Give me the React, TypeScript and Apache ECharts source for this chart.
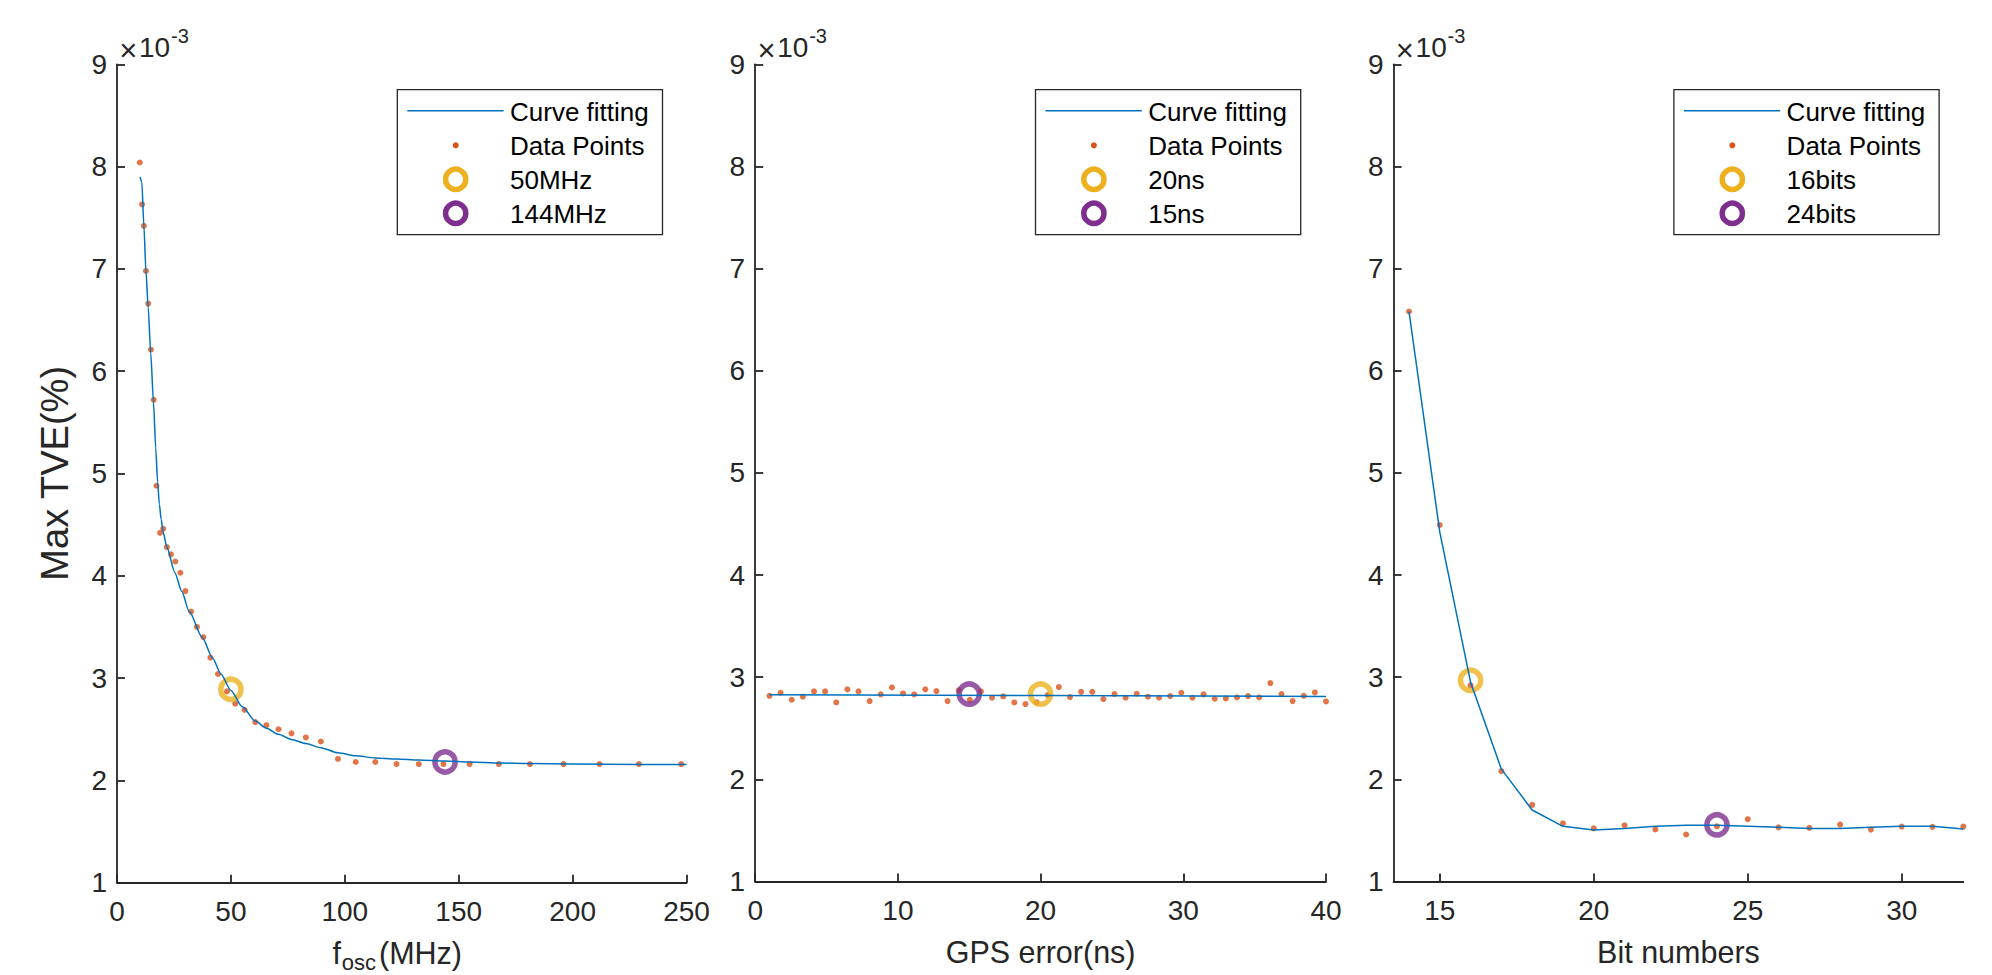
import React, { useEffect, useRef } from "react";
import * as echarts from "echarts";

const FONT = "'Liberation Sans', Arial, Helvetica, sans-serif";
const AX = "#262626";
const C_BLUE = "#0072BD";
const C_ORANGE = "#D95319";
const C_YELLOW = "#EDB120";
const C_PURPLE = "#7E2F8E";

// ---------- Panel 1 : oscillator frequency ----------
const foscX = [10.0, 11.0, 11.8, 12.7, 13.7, 14.9, 16.1, 17.3, 18.9, 20.3, 21.9, 23.7, 25.6, 27.8, 30.0, 32.5, 35.1, 37.9, 41.0, 44.3, 48.3, 51.9, 56.0, 60.7, 65.6, 70.9, 76.6, 82.9, 89.5, 97.0, 104.8, 113.4, 122.7, 132.5, 143.3, 154.8, 167.6, 181.3, 196.0, 211.8, 229.1, 247.7];
const foscY = [8.04, 7.63, 7.42, 6.98, 6.66, 6.21, 5.72, 4.88, 4.42, 4.46, 4.28, 4.21, 4.14, 4.03, 3.85, 3.65, 3.50, 3.40, 3.20, 3.04, 2.87, 2.75, 2.69, 2.57, 2.54, 2.50, 2.46, 2.42, 2.38, 2.21, 2.18, 2.18, 2.16, 2.16, 2.16, 2.16, 2.16, 2.16, 2.16, 2.16, 2.16, 2.16];
const foscFitX = [10.1, 10.9, 11.8, 12.7, 13.7, 14.8, 16.0, 17.0, 17.8, 18.6, 19.4, 20.2, 21.9, 25.4, 28.4, 31.7, 37.4, 41.9, 45.6, 50, 55, 60.7, 65.6, 70.9, 76.6, 82.9, 89.5, 97, 104.8, 113.4, 122.7, 132.5, 144, 155, 168, 181, 200, 230, 250];
const foscFitY = [7.90, 7.85, 7.42, 6.98, 6.62, 6.18, 5.70, 5.25, 4.92, 4.70, 4.55, 4.43, 4.28, 4.03, 3.85, 3.65, 3.40, 3.20, 3.04, 2.88, 2.72, 2.58, 2.51, 2.45, 2.40, 2.36, 2.32, 2.27, 2.24, 2.22, 2.21, 2.20, 2.19, 2.18, 2.17, 2.165, 2.16, 2.155, 2.155];
const foscMarkA = [50, 2.89]; // 50MHz
const foscMarkB = [144, 2.18]; // 144MHz

// ---------- Panel 2 : GPS error ----------
const gpsX = [1.00, 1.78, 2.56, 3.34, 4.12, 4.90, 5.68, 6.46, 7.24, 8.02, 8.80, 9.58, 10.36, 11.14, 11.92, 12.70, 13.48, 14.26, 15.04, 15.82, 16.60, 17.38, 18.16, 18.94, 19.72, 20.50, 21.28, 22.06, 22.84, 23.62, 24.40, 25.18, 25.96, 26.74, 27.52, 28.30, 29.08, 29.86, 30.64, 31.42, 32.20, 32.98, 33.76, 34.54, 35.32, 36.10, 36.88, 37.66, 38.44, 39.22, 40.00];
const gpsY = [2.818, 2.848, 2.779, 2.809, 2.861, 2.861, 2.753, 2.881, 2.861, 2.766, 2.832, 2.900, 2.841, 2.832, 2.881, 2.864, 2.766, 2.871, 2.779, 2.861, 2.799, 2.812, 2.753, 2.737, 2.753, 2.825, 2.903, 2.805, 2.857, 2.857, 2.786, 2.835, 2.799, 2.838, 2.809, 2.799, 2.815, 2.848, 2.799, 2.832, 2.789, 2.792, 2.802, 2.815, 2.802, 2.942, 2.835, 2.766, 2.818, 2.851, 2.763];
const gpsFitX = [1, 20.5, 40];
const gpsFitY = [2.828, 2.821, 2.812];
const gpsMarkA = [20, 2.835]; // 20ns
const gpsMarkB = [15, 2.835]; // 15ns

// ---------- Panel 3 : bit numbers ----------
const bitX = [14, 15, 16, 17, 18, 19, 20, 21, 22, 23, 24, 25, 26, 27, 28, 29, 30, 31, 32];
const bitY = [6.58, 4.49, 2.92, 2.08, 1.75, 1.57, 1.52, 1.55, 1.51, 1.46, 1.54, 1.61, 1.53, 1.525, 1.557, 1.508, 1.538, 1.535, 1.538];
const bitFitY = [6.58, 4.42, 2.95, 2.10, 1.70, 1.54, 1.505, 1.52, 1.54, 1.55, 1.55, 1.54, 1.53, 1.52, 1.52, 1.53, 1.54, 1.54, 1.515];
const bitMarkA = [16, 2.97]; // 16bits
const bitMarkB = [24, 1.555]; // 24bits

// ---------- Texts ----------
const yTicks = [1, 2, 3, 4, 5, 6, 7, 8, 9];
const bitTicks = [15, 20, 25, 30];
const legendNames = [
  ["Curve fitting", "Data Points", "50MHz", "144MHz"],
  ["Curve fitting", "Data Points", "20ns", "15ns"],
  ["Curve fitting", "Data Points", "16bits", "24bits"],
];
const yTitle = "Max TVE(%)";
const xTitles = ["", "GPS error(ns)", "Bit numbers"];
const foscTitleParts = ["f", "osc", "(MHz)"];

// ---------- Layout ----------
const GRID_TOP = 64.3;
const GRID_H = 818.4;
const PANEL_LEFT = [117, 755.2, 1393.6];
const PANEL_W = [569.5, 570.8, 569.7];

const zip = (xs: number[], ys: number[]) => xs.map((x, i) => [x, ys[i]]);

const axisLineStyle = { color: AX, width: 1.8 };

function makeXAxis(i: number, extra: any) {
  return {
    type: "value",
    gridIndex: i,
    axisLine: { show: true, onZero: false, lineStyle: axisLineStyle },
    axisTick: { show: true, inside: true, length: 8, lineStyle: axisLineStyle },
    axisLabel: {
      color: AX,
      fontSize: 28,
      fontFamily: FONT,
      margin: 15,
      showMinLabel: true,
      showMaxLabel: true,
    },
    splitLine: { show: false },
    name: xTitles[i],
    nameLocation: "middle",
    nameGap: 52.5,
    nameTextStyle: { color: AX, fontSize: 30.5, lineHeight: 36, fontFamily: FONT },
    ...extra,
  };
}

function makeYAxis(i: number) {
  return {
    type: "value",
    gridIndex: i,
    min: yTicks[0],
    max: yTicks[yTicks.length - 1],
    interval: 1,
    axisLine: { show: true, onZero: false, lineStyle: axisLineStyle },
    axisTick: { show: true, inside: true, length: 8, lineStyle: axisLineStyle },
    axisLabel: {
      color: AX,
      fontSize: 28,
      fontFamily: FONT,
      margin: 10,
      showMinLabel: true,
      showMaxLabel: true,
    },
    splitLine: { show: false },
  };
}

function panelSeries(i: number, fit: number[][], pts: number[][], ma: number[], mb: number[], smooth: any) {
  return [
    {
      type: "line",
      name: legendNames[i][0],
      xAxisIndex: i,
      yAxisIndex: i,
      data: fit,
      showSymbol: false,
      smooth,
      smoothMonotone: "x",
      lineStyle: { color: C_BLUE, width: 1.5 },
      silent: true,
    },
    {
      type: "scatter",
      name: legendNames[i][1],
      xAxisIndex: i,
      yAxisIndex: i,
      data: pts,
      symbol: "circle",
      symbolSize: 6,
      itemStyle: { color: C_ORANGE },
      silent: true,
    },
    {
      type: "scatter",
      name: legendNames[i][2],
      xAxisIndex: i,
      yAxisIndex: i,
      data: [ma],
      symbol: "circle",
      symbolSize: 20.2,
      itemStyle: { color: "rgba(0,0,0,0)", borderColor: C_YELLOW, borderWidth: 5.5 },
      silent: true,
    },
    {
      type: "scatter",
      name: legendNames[i][3],
      xAxisIndex: i,
      yAxisIndex: i,
      data: [mb],
      symbol: "circle",
      symbolSize: 20.2,
      itemStyle: { color: "rgba(0,0,0,0)", borderColor: C_PURPLE, borderWidth: 5.5 },
      silent: true,
    },
  ];
}

function panelGraphics(i: number) {
  const ox = PANEL_LEFT[i];
  const rows = [110.7, 145.3, 179.3, 213.3];
  const els: any[] = [];
  // x10^-3 exponent label
  els.push({ type: "text", x: ox + 11.3, y: 50, style: { text: "×", fontSize: 31, fontFamily: FONT, fill: AX, align: "center", verticalAlign: "middle" } });
  els.push({ type: "text", x: ox + 22, y: 47, style: { text: "10", fontSize: 28, fontFamily: FONT, fill: AX, align: "left", verticalAlign: "middle" } });
  els.push({ type: "text", x: ox + 54, y: 36.4, style: { text: "-3", fontSize: 20, fontFamily: FONT, fill: AX, align: "left", verticalAlign: "middle" } });
  // legend box
  els.push({ type: "rect", shape: { x: ox + 280.3, y: 89.7, width: 265.2, height: 145 }, style: { fill: "#ffffff", stroke: AX, lineWidth: 1.3 }, z: 10 });
  els.push({ type: "line", shape: { x1: ox + 290.3, y1: rows[0], x2: ox + 386.6, y2: rows[0] }, style: { stroke: C_BLUE, lineWidth: 1.5 }, z: 11 });
  els.push({ type: "circle", shape: { cx: ox + 338.7, cy: rows[1], r: 3 }, style: { fill: C_ORANGE }, z: 11 });
  els.push({ type: "circle", shape: { cx: ox + 338.7, cy: rows[2], r: 10.1 }, style: { fill: "none", stroke: C_YELLOW, lineWidth: 5.5 }, z: 11 });
  els.push({ type: "circle", shape: { cx: ox + 338.7, cy: rows[3], r: 10.1 }, style: { fill: "none", stroke: C_PURPLE, lineWidth: 5.5 }, z: 11 });
  legendNames[i].forEach((t, k) => {
    els.push({ type: "text", x: ox + 393, y: rows[k] + 1, z: 11, style: { text: t, fontSize: 26, fontFamily: FONT, fill: "#000000", align: "left", verticalAlign: "middle" } });
  });
  return els;
}

export default function App() {
  const ref = useRef<HTMLDivElement>(null);
  useEffect(() => {
    if (!ref.current) return;
    const chart = echarts.init(ref.current, null, { renderer: "svg" });
    const option: any = {
      animation: false,
      backgroundColor: "#ffffff",
      textStyle: { fontFamily: FONT },
      grid: PANEL_LEFT.map((l, i) => ({ left: l, top: GRID_TOP, width: PANEL_W[i], height: GRID_H, containLabel: false })),
      xAxis: [
        makeXAxis(0, { min: 0, max: 250, interval: 50 }),
        makeXAxis(1, { min: 0, max: 40, interval: 10 }),
        makeXAxis(2, {
          min: 13.5,
          max: 32,
          axisLabel: { color: AX, fontSize: 28, fontFamily: FONT, margin: 15, customValues: bitTicks },
          axisTick: { show: true, inside: true, length: 8, lineStyle: axisLineStyle, customValues: bitTicks },
        }),
      ],
      yAxis: [makeYAxis(0), makeYAxis(1), makeYAxis(2)],
      series: [
        ...panelSeries(0, zip(foscFitX, foscFitY), zip(foscX, foscY), foscMarkA, foscMarkB, 0.25),
        ...panelSeries(1, zip(gpsFitX, gpsFitY), zip(gpsX, gpsY), gpsMarkA, gpsMarkB, false),
        ...panelSeries(2, zip(bitX, bitFitY), zip(bitX, bitY), bitMarkA, bitMarkB, false),
      ],
      graphic: [
        {
          type: "text",
          x: 55.3,
          y: 473.3,
          rotation: Math.PI / 2,
          style: { text: yTitle, fontSize: 38, fontFamily: FONT, fill: AX, align: "center", verticalAlign: "middle" },
        },
        // f_osc(MHz) with a real subscript
        { type: "text", x: 332.4, y: 953, style: { text: foscTitleParts[0], fontSize: 30.5, fontFamily: FONT, fill: AX, align: "left", verticalAlign: "middle" } },
        { type: "text", x: 341.7, y: 962.5, style: { text: foscTitleParts[1], fontSize: 22, fontFamily: FONT, fill: AX, align: "left", verticalAlign: "middle" } },
        { type: "text", x: 379, y: 953, style: { text: foscTitleParts[2], fontSize: 30.5, fontFamily: FONT, fill: AX, align: "left", verticalAlign: "middle" } },
        ...panelGraphics(0),
        ...panelGraphics(1),
        ...panelGraphics(2),
      ],
    };
    chart.setOption(option);
    return () => chart.dispose();
  }, []);
  return (
    <div
      ref={ref}
      style={{ position: "absolute", left: 0, top: 0, width: 1992, height: 975, background: "#fff" }}
    />
  );
}
